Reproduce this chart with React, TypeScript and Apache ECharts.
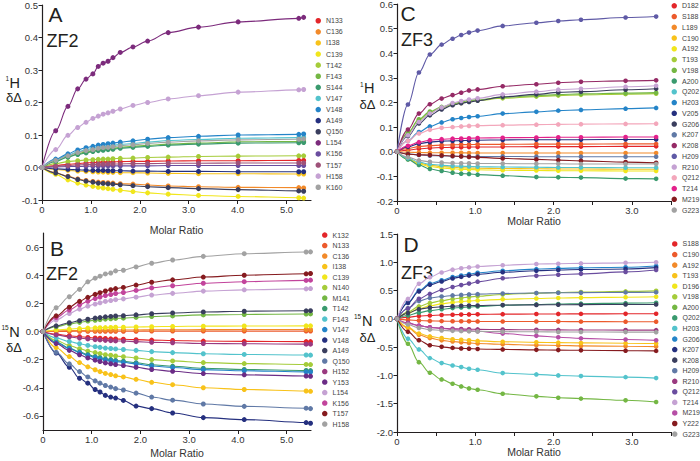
import React, { useEffect, useRef } from 'react';
import * as echarts from 'echarts';

const FONT = '"Liberation Sans", Arial, Helvetica, sans-serif';

// ---------- Panel A (ZF2, 1H) ----------
const xA = [0, 0.28, 0.53, 0.73, 0.9, 1.04, 1.15, 1.25, 1.35, 1.45, 1.6, 1.86, 2.16, 2.58, 3.2, 4.01, 5.25, 5.35];
const namesA = ['N133', 'C136', 'I138', 'C139', 'T142', 'F143', 'S144', 'V147', 'V148', 'A149', 'Q150', 'L154', 'K156', 'T157', 'H158', 'K160'];
const aN133 = [0, .006, .01, .012, .014, .015, .016, .016, .017, .017, .018, .019, .019, .02, .021, .021, .022, .022];
const aC136 = [0, -.016, -.027, -.035, -.04, -.043, -.045, -.046, -.047, -.048, -.05, -.051, -.054, -.057, -.059, -.061, -.062, -.063];
const aI138 = [0, -.006, -.009, -.011, -.012, -.013, -.014, -.014, -.015, -.015, -.016, -.016, -.017, -.018, -.019, -.019, -.02, -.02];
const aC139 = [0, -.021, -.038, -.048, -.054, -.058, -.061, -.063, -.065, -.067, -.07, -.074, -.078, -.082, -.086, -.089, -.093, -.094];
const aT142 = [0, .012, .018, .021, .023, .024, .025, .026, .026, .027, .028, .029, .031, .032, .034, .035, .036, .036];
const aF143 = [0, .02, .033, .042, .048, .051, .054, .056, .058, .059, .062, .065, .068, .072, .075, .079, .08, .081];
const aS144 = [0, .019, .032, .04, .045, .049, .052, .053, .055, .056, .059, .062, .065, .069, .072, .075, .076, .077];
const aV147 = [0, .023, .038, .048, .055, .059, .062, .064, .066, .068, .071, .074, .078, .083, .086, .09, .092, .093];
const aV148 = [0, .026, .042, .054, .061, .065, .069, .071, .073, .075, .078, .082, .087, .092, .096, .1, .102, .103];
const aA149 = [0, -.004, -.006, -.007, -.008, -.009, -.009, -.009, -.01, -.01, -.01, -.011, -.011, -.012, -.012, -.013, -.013, -.013];
const aQ150 = [0, -.017, -.028, -.037, -.042, -.045, -.048, -.049, -.05, -.051, -.053, -.056, -.059, -.062, -.065, -.068, -.072, -.073];
const aL154 = [0, .113, .188, .242, .272, .288, .311, .321, .327, .338, .354, .371, .389, .415, .432, .448, .459, .462];
const aK156 = [0, .002, .003, .003, .004, .004, .004, .005, .005, .005, .005, .005, .005, .006, .006, .006, .006, .006];
const aT157 = [0, .004, .006, .008, .009, .009, .01, .01, .011, .011, .011, .012, .012, .013, .013, .014, .014, .014];
const aH158 = [0, .055, .099, .123, .139, .151, .158, .164, .168, .173, .18, .191, .2, .211, .221, .232, .239, .24];
const aK160 = [0, .022, .036, .046, .052, .055, .059, .061, .062, .064, .067, .07, .074, .078, .082, .085, .087, .088];
const valuesA = [aN133, aC136, aI138, aC139, aT142, aF143, aS144, aV147, aV148, aA149, aQ150, aL154, aK156, aT157, aH158, aK160];

// ---------- Panel B (ZF2, 15N) ----------
const xB = [0, 0.27, 0.54, 0.75, 0.92, 1.07, 1.17, 1.28, 1.39, 1.49, 1.65, 1.91, 2.23, 2.66, 3.29, 4.13, 5.4, 5.49];
const namesB = ['K132', 'N133', 'C136', 'I138', 'C139', 'N140', 'M141', 'T142', 'F143', 'V147', 'V148', 'A149', 'Q150', 'H152', 'Y153', 'L154', 'K156', 'T157', 'H158'];
const bK132 = [0, -.019, -.03, -.037, -.042, -.046, -.048, -.05, -.052, -.053, -.055, -.058, -.061, -.064, -.068, -.07, -.072, -.072];
const bN133 = [0, .001, .001, .002, .002, .002, .002, .002, .002, .002, .002, .002, .003, .003, .003, .003, .003, .003];
const bC136 = [0, .004, .006, .007, .008, .009, .009, .01, .01, .01, .011, .011, .012, .012, .013, .014, .014, .014];
const bI138 = [0, -.115, -.178, -.221, -.251, -.272, -.285, -.298, -.306, -.315, -.323, -.34, -.361, -.378, -.4, -.412, -.423, -.425];
const bC139 = [0, .011, .017, .021, .024, .026, .027, .028, .029, .03, .03, .032, .034, .036, .038, .039, .04, .04];
const bN140 = [0, -.063, -.099, -.122, -.139, -.15, -.157, -.165, -.169, -.174, -.179, -.188, -.2, -.209, -.221, -.228, -.234, -.235];
const bM141 = [0, .034, .053, .065, .074, .08, .084, .088, .09, .093, .095, .1, .106, .111, .118, .121, .124, .125];
const bT142 = [0, -.075, -.117, -.145, -.164, -.178, -.186, -.195, -.2, -.206, -.211, -.222, -.236, -.247, -.261, -.27, -.277, -.278];
const bF143 = [0, -.045, -.071, -.087, -.099, -.108, -.113, -.118, -.121, -.124, -.128, -.134, -.143, -.15, -.158, -.163, -.167, -.168];
const bV147 = [0, -.078, -.121, -.15, -.17, -.184, -.193, -.202, -.207, -.213, -.219, -.23, -.245, -.256, -.271, -.279, -.287, -.288];
const bV148 = [0, -.153, -.254, -.332, -.367, -.412, -.43, -.454, -.466, -.473, -.49, -.53, -.548, -.579, -.612, -.626, -.647, -.652];
const bA149 = [0, .04, .062, .077, .087, .095, .099, .104, .107, .11, .112, .118, .126, .132, .139, .144, .147, .148];
const bQ150 = [0, -.148, -.23, -.285, -.323, -.351, -.367, -.384, -.395, -.406, -.416, -.438, -.466, -.488, -.515, -.532, -.545, -.548];
const bH152 = [0, -.024, -.038, -.047, -.053, -.058, -.06, -.063, -.065, -.067, -.068, -.072, -.077, -.08, -.085, -.087, -.09, -.09];
const bY153 = [0, -.086, -.134, -.165, -.188, -.204, -.213, -.223, -.229, -.235, -.242, -.254, -.27, -.283, -.299, -.308, -.316, -.318];
const bL154 = [0, .082, .128, .159, .18, .195, .204, .214, .22, .226, .232, .244, .259, .271, .287, .296, .303, .305];
const bK156 = [0, .099, .153, .19, .215, .234, .245, .256, .263, .27, .277, .292, .31, .325, .343, .354, .363, .365];
const bT157 = [0, .111, .173, .214, .243, .264, .276, .288, .297, .305, .313, .33, .35, .367, .387, .4, .41, .412];
const bH158 = [0, .169, .247, .299, .353, .379, .393, .409, .416, .431, .435, .459, .485, .508, .534, .553, .565, .566];
const valuesB = [bK132, bN133, bC136, bI138, bC139, bN140, bM141, bT142, bF143, bV147, bV148, bA149, bQ150, bH152, bY153, bL154, bK156, bT157, bH158];

// ---------- Panel C (ZF3, 1H) ----------
const xC = [0, 0.14, 0.28, 0.42, 0.57, 0.71, 0.82, 0.92, 1.03, 1.35, 1.78, 2.06, 2.35, 2.92, 3.31];
const namesC = ['D182', 'S188', 'L189', 'C190', 'A192', 'T193', 'V198', 'A200', 'Q202', 'H203', 'V205', 'G206', 'K207', 'K208', 'H209', 'R210', 'Q212', 'T214', 'M219', 'G223'];
const cD182 = [0, .006, .012, .015, .017, .018, .018, .019, .019, .02, .021, .021, .021, .022, .022];
const cS188 = [0, .013, .021, .025, .027, .028, .029, .029, .03, .03, .031, .031, .031, .032, .032];
const cL189 = [0, -.002, -.003, -.004, -.004, -.004, -.004, -.005, -.005, -.005, -.005, -.005, -.005, -.005, -.005];
const cC190 = [0, -.028, -.046, -.055, -.06, -.063, -.065, -.066, -.067, -.068, -.069, -.07, -.07, -.071, -.071];
const cA192 = [0, -.03, -.05, -.06, -.066, -.069, -.071, -.072, -.073, -.075, -.076, -.077, -.077, -.078, -.078];
const cT193 = [0, .076, .13, .16, .179, .191, .198, .204, .208, .217, .224, .228, .231, .234, .236];
const cV198 = [0, .077, .132, .163, .182, .194, .202, .208, .211, .221, .228, .232, .235, .238, .24];
const cA200 = [0, -.031, -.054, -.07, -.078, -.085, -.089, -.09, -.093, -.097, -.103, -.104, -.105, -.109, -.11];
const cQ202 = [0, -.026, -.042, -.051, -.055, -.058, -.059, -.06, -.061, -.062, -.063, -.064, -.064, -.065, -.065];
const cH203 = [0, .045, .08, .103, .119, .132, .137, .141, .144, .155, .162, .167, .17, .175, .178];
const cV205 = [0, .02, .033, .039, .043, .044, .045, .046, .047, .048, .049, .049, .049, .05, .05];
const cG206 = [0, .064, .115, .148, .172, .189, .197, .202, .207, .223, .233, .241, .244, .252, .256];
const cK207 = [0, -.008, -.013, -.016, -.017, -.018, -.018, -.019, -.019, -.019, -.02, -.02, -.02, -.02, -.02];
const cK208 = [0, .09, .155, .193, .216, .23, .24, .249, .253, .266, .274, .28, .284, .288, .29];
const cH209 = [0, .192, .322, .395, .435, .459, .474, .484, .492, .511, .524, .531, .536, .545, .549];
const cR210 = [0, .067, .121, .155, .18, .198, .206, .212, .217, .233, .244, .252, .256, .264, .268];
const cQ212 = [0, .045, .074, .089, .097, .1, .103, .105, .106, .108, .11, .111, .112, .113, .114];
const cT214 = [0, .024, .039, .047, .051, .053, .054, .055, .056, .057, .058, .059, .059, .06, .06];
const cM219 = [0, -.01, -.012, -.013, -.015, -.017, -.019, -.021, -.023, -.027, -.031, -.034, -.037, -.042, -.045];
const cG223 = [0, -.022, -.035, -.041, -.044, -.046, -.047, -.047, -.048, -.048, -.049, -.049, -.05, -.05, -.05];
const valuesC = [cD182, cS188, cL189, cC190, cA192, cT193, cV198, cA200, cQ202, cH203, cV205, cG206, cK207, cK208, cH209, cR210, cQ212, cT214, cM219, cG223];

// ---------- Panel D (ZF3, 15N) ----------
const xD = [0, 0.14, 0.28, 0.42, 0.57, 0.71, 0.82, 0.92, 1.03, 1.35, 1.78, 2.06, 2.35, 2.92, 3.31];
const namesD = ['S188', 'C190', 'A192', 'T193', 'D196', 'V198', 'A200', 'Q202', 'H203', 'G206', 'K207', 'K208', 'H209', 'R210', 'Q212', 'T214', 'M219', 'Y222', 'G223'];
const dS188 = [0, .03, .05, .06, .068, .073, .076, .078, .08, .083, .086, .087, .088, .089, .09];
const dC190 = [0, -.018, -.03, -.036, -.04, -.042, -.043, -.044, -.045, -.046, -.047, -.048, -.049, -.05, -.05];
const dA192 = [0, -.16, -.28, -.34, -.38, -.4, -.415, -.425, -.435, -.45, -.465, -.47, -.478, -.485, -.49];
const dT193 = [0, -.15, -.26, -.31, -.34, -.36, -.37, -.38, -.39, -.405, -.415, -.42, -.425, -.43, -.435];
const dD196 = [0, .1, .18, .23, .265, .29, .305, .315, .325, .345, .36, .368, .375, .383, .39];
const dV198 = [0, .12, .22, .28, .32, .35, .37, .385, .4, .43, .455, .465, .475, .485, .495];
const dA200 = [0, -.44, -.765, -.953, -1.07, -1.147, -1.194, -1.23, -1.253, -1.324, -1.37, -1.394, -1.41, -1.44, -1.47];
const dQ202 = [0, .06, .11, .145, .17, .19, .2, .21, .22, .24, .255, .262, .268, .278, .285];
const dH203 = [0, -.35, -.54, -.694, -.782, -.824, -.853, -.882, -.9, -.959, -.982, -1.0, -1.012, -1.03, -1.047];
const dG206 = [0, .29, .5, .622, .683, .739, .767, .79, .813, .851, .879, .893, .902, .912, .935];
const dK207 = [0, .281, .484, .602, .661, .715, .742, .765, .787, .824, .851, .864, .873, .882, .905];
const dK208 = [0, .102, .171, .199, .214, .224, .23, .235, .237, .244, .247, .25, .251, .254, .255];
const dH209 = [0, .188, .315, .367, .395, .414, .423, .432, .437, .449, .456, .461, .463, .468, .47];
const dR210 = [0, -.07, -.12, -.15, -.165, -.175, -.18, -.183, -.186, -.19, -.193, -.195, -.197, -.199, -.2];
const dQ212 = [0, .182, .355, .441, .51, .562, .597, .623, .657, .718, .761, .779, .796, .83, .865];
const dT214 = [0, .353, .62, .735, .82, .87, .895, .91, .925, .947, .97, .975, .98, .99, 1.0];
const dM219 = [0, -.08, -.12, -.15, -.17, -.19, -.2, -.21, -.22, -.26, -.3, -.325, -.345, -.365, -.38];
const dY222 = [0, -.23, -.377, -.466, -.495, -.513, -.522, -.527, -.532, -.54, -.548, -.552, -.556, -.562, -.566];
const dG223 = [0, -.1, -.16, -.19, -.205, -.212, -.217, -.22, -.222, -.226, -.229, -.231, -.232, -.234, -.235];
const valuesD = [dS188, dC190, dA192, dT193, dD196, dV198, dA200, dQ202, dH203, dG206, dK207, dK208, dH209, dR210, dQ212, dT214, dM219, dY222, dG223];

// ---------- tick values ----------
const xTicksAB = [0, 1, 2, 3, 4, 5];
const xTicksCD = [0, 0.5, 1, 1.5, 2, 2.5, 3, 3.5];
const xLabelsCD = [0, 1, 2, 3];
const yTicksA = [-0.1, 0, 0.1, 0.2, 0.3, 0.4, 0.5];
const yTicksB = [-0.6, -0.4, -0.2, 0, 0.2, 0.4, 0.6];
const yTicksC = [-0.2, -0.1, 0, 0.1, 0.2, 0.3, 0.4, 0.5, 0.6];
const yTicksD = [-2, -1.5, -1, -0.5, 0, 0.5, 1, 1.5];

// ---------- colours ----------
const red = '#e3262a', orangeRed = '#ec5a2c', orange = '#f28a2a', gold = '#f8c21a', yellow = '#f1e61c';
const yellowGreen = '#a5cc3a', green = '#74b744', teal = '#3a9a6e', cyan = '#53c3cc', blue = '#2484c8';
const navy = '#25307f', darkSlate = '#3a3e5e', steel = '#6079a6', magPurple = '#9a3a80', purple = '#6a4d9f';
const lilac = '#c5a2d3', pink = '#f3a7bb', magenta = '#e3218b', darkRed = '#861b1f', gray = '#a2a2a2';
const colorsA = [red, orange, gold, yellow, yellowGreen, green, teal, cyan, blue, navy, darkSlate, '#7c2b7c', purple, '#9e5279', lilac, gray];
const colorsB = [red, orangeRed, orange, gold, yellow, yellowGreen, green, teal, cyan, blue, navy, darkSlate, steel, magPurple, '#6b2c86', lilac, '#c2449c', darkRed, gray];
const colorsC = [red, orangeRed, orange, gold, yellow, yellowGreen, green, teal, cyan, blue, navy, darkSlate, steel, '#952a66', '#5f5aa6', lilac, pink, magenta, darkRed, gray];
const colorsD = [red, orangeRed, orange, gold, yellow, yellowGreen, green, teal, cyan, blue, navy, darkSlate, steel, magPurple, purple, lilac, '#b64fa6', darkRed, gray];

function buildSeries(tag: string, idx: number, names: string[], values: number[][], xs: number[], colors: string[], size: number) {
  return names.map((n, i) => ({
    type: 'line',
    name: tag + ':' + n,
    xAxisIndex: idx,
    yAxisIndex: idx,
    data: xs.map((x, j) => [x, values[i][j]]),
    smooth: 0.35,
    smoothMonotone: 'x',
    symbol: 'circle',
    symbolSize: size,
    showSymbol: true,
    showAllSymbol: true,
    lineStyle: { width: 1.1, color: colors[i] },
    itemStyle: { color: colors[i] },
    emphasis: { disabled: true },
    silent: true,
  }));
}

const fmtX = (v: number) => (v === 0 ? '0' : v.toFixed(1));
const fmtY = (v: number) => (Math.abs(v) < 1e-9 ? '0.0' : v.toFixed(1));
const AXIS_COLOR = '#231f20';
const LABEL_STYLE = { fontSize: 9.5, color: '#333', fontFamily: FONT };

function xAxis(idx: number, max: number, ticks: number[], labels: number[], nameGap: number) {
  return {
    gridIndex: idx, type: 'value', min: 0, max,
    axisLine: { show: true, onZero: false, lineStyle: { color: AXIS_COLOR, width: 1.2 } },
    axisTick: { show: true, inside: false, length: 4, customValues: ticks, lineStyle: { color: AXIS_COLOR, width: 1 } },
    axisLabel: { show: true, margin: 4, customValues: labels, formatter: fmtX, ...LABEL_STYLE },
    splitLine: { show: false },
    name: 'Molar Ratio', nameLocation: 'middle', nameGap,
    nameTextStyle: { fontSize: 10.5, color: '#333', fontFamily: FONT },
  };
}
function yAxis(idx: number, min: number, max: number, ticks: number[]) {
  return {
    gridIndex: idx, type: 'value', min, max,
    axisLine: { show: true, onZero: false, lineStyle: { color: AXIS_COLOR, width: 1.2 } },
    axisTick: { show: true, inside: false, length: 3.5, customValues: ticks, lineStyle: { color: AXIS_COLOR, width: 1 } },
    axisLabel: { show: true, margin: 4, customValues: ticks, formatter: fmtY, ...LABEL_STYLE },
    splitLine: { show: false },
  };
}
function legend(tag: string, names: string[], left: number, top: number, spacing: number) {
  return {
    data: names.map((n) => tag + ':' + n),
    orient: 'vertical', left, top, padding: 0, itemGap: 0,
    itemWidth: 5.5, itemHeight: 5.5, icon: 'circle', selectedMode: false,
    formatter: (n: string) => n.split(':')[1],
    textStyle: { fontSize: 7, lineHeight: spacing, color: '#444', fontFamily: FONT },
  };
}
function txt(text: string, x: number, y: number, fontSize: number) {
  return { type: 'text', x, y, silent: true, style: { text, fontSize, fontFamily: FONT, fill: '#231f20', verticalAlign: 'middle', align: 'left' } };
}

export default function App() {
  const ref = useRef<HTMLDivElement>(null);
  useEffect(() => {
    if (!ref.current) return;
    const chart = echarts.init(ref.current, undefined, { renderer: 'svg', width: 700, height: 461 });
    const option: any = {
      animation: false,
      backgroundColor: '#ffffff',
      grid: [
        { left: 42, top: 5, width: 269, height: 195, outerBoundsMode: 'none' },
        { left: 43, top: 233, width: 268, height: 197, outerBoundsMode: 'none' },
        { left: 397, top: 4, width: 274, height: 197, outerBoundsMode: 'none' },
        { left: 397, top: 234, width: 274, height: 198, outerBoundsMode: 'none' },
      ],
      xAxis: [
        xAxis(0, 5.5, xTicksAB, xTicksAB, 24),
        xAxis(1, 5.5, xTicksAB, xTicksAB, 17),
        xAxis(2, 3.5, xTicksCD, xLabelsCD, 13.5),
        xAxis(3, 3.5, xTicksCD, xLabelsCD, 14),
      ],
      yAxis: [
        yAxis(0, -0.1, 0.5, yTicksA),
        yAxis(1, -0.7, 0.7, yTicksB),
        yAxis(2, -0.2, 0.6, yTicksC),
        yAxis(3, -2, 1.5, yTicksD),
      ],
      legend: [
        legend('A', namesA, 315.5, 15.2, 11.1),
        legend('B', namesB, 322, 229.8, 10.5),
        legend('C', namesC, 671.5, 0.4, 10.75),
        legend('D', namesD, 672, 238.7, 10.56),
      ],
      graphic: [
        txt('A', 48.5, 14.5, 21), txt('ZF2', 46.5, 40.5, 18),
        txt('B', 50, 248, 21), txt('ZF2', 46, 273.5, 18),
        txt('C', 400.5, 13.8, 21), txt('ZF3', 401, 40, 18),
        txt('D', 403.5, 244.5, 21), txt('ZF3', 401, 273, 18),
        txt('1', 5.5, 78, 6.5), txt('H', 9.5, 82.5, 14.5), txt('\u03b4\u0394', 6, 97, 13),
        txt('1', 360, 84, 6.5), txt('H', 364, 88, 14.5), txt('\u03b4\u0394', 359.5, 104, 13),
        txt('15', 1.5, 327.5, 6.5), txt('N', 9.3, 332, 14.5), txt('\u03b4\u0394', 6, 347, 13),
        txt('15', 354, 316, 6.5), txt('N', 362, 320.5, 14.5), txt('\u03b4\u0394', 359.5, 337, 13),
      ],
      series: [
        ...buildSeries('A', 0, namesA, valuesA, xA, colorsA, 5),
        ...buildSeries('B', 1, namesB, valuesB, xB, colorsB, 5),
        ...buildSeries('C', 2, namesC, valuesC, xC, colorsC, 4.6),
        ...buildSeries('D', 3, namesD, valuesD, xD, colorsD, 4.6),
      ],
    };
    chart.setOption(option);
    return () => chart.dispose();
  }, []);
  return <div ref={ref} style={{ position: 'absolute', left: 0, top: 0, width: 700, height: 461, background: '#fff' }} />;
}
